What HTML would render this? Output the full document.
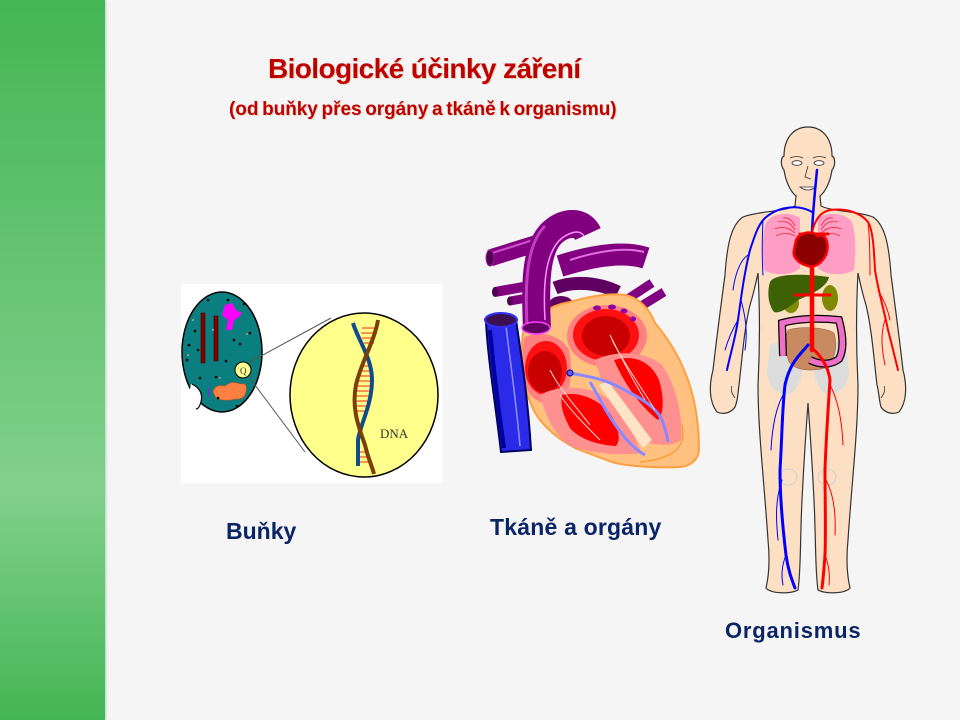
<!DOCTYPE html>
<html>
<head>
<meta charset="utf-8">
<style>
html,body{margin:0;padding:0;}
body{width:960px;height:720px;overflow:hidden;background:#f5f5f5;position:relative;font-family:"Liberation Sans",Arial,sans-serif;}
#bar{position:absolute;left:0;top:0;width:105px;height:720px;background:linear-gradient(to bottom,#44b654 0%,#82d08d 68%,#44b654 100%);box-shadow:1px 0 2px rgba(120,200,130,0.6);}
svg{position:absolute;left:0;top:0;}
.t{position:absolute;white-space:nowrap;font-weight:bold;line-height:1;}
#title{left:268px;top:55px;font-size:28px;color:#c00000;letter-spacing:-0.6px;text-shadow:1px 1px 0 #e6d6c2;}
#sub{left:229px;top:100px;font-size:19px;color:#c00000;word-spacing:-1.5px;letter-spacing:-0.05px;text-shadow:1px 1px 0 #e6d6c2;}
.lab{color:#0a2466;}
</style>
</head>
<body>
<div id="bar"></div>
<svg width="960" height="720" viewBox="0 0 960 720" xmlns="http://www.w3.org/2000/svg">
<!-- ============ CELL ============ -->
<rect x="181" y="284" width="261" height="199" fill="#ffffff"/>
<ellipse cx="222" cy="352" rx="40" ry="60" fill="#0b7f80" stroke="#000" stroke-width="1.5"/>
<path d="M191,384 Q204,390 201,402 Q199,410 194,408 L188,400 Z" fill="#ffffff"/>
<path d="M192,384 Q204,390 201,402 Q199,409 196,409" fill="none" stroke="#000" stroke-width="1.2"/>
<rect x="201" y="313" width="4" height="50" fill="#800000" stroke="#3a0000" stroke-width="0.6"/>
<rect x="214" y="316" width="4" height="45" fill="#800000" stroke="#3a0000" stroke-width="0.6"/>
<path d="M225,305 L232,303 L236,310 L242,313 L238,318 L234,320 L232,330 L226,330 L228,320 L222,315 Z" fill="#ff00ff"/>
<path d="M213,392 Q215,384 225,386 Q232,380 240,384 Q248,382 246,392 Q244,400 235,399 Q225,402 216,398 Z" fill="#ff8040" stroke="#c05020" stroke-width="0.6"/>
<rect x="208" y="388" width="2" height="8" fill="#6040c0"/>
<g fill="#000">
<circle cx="208" cy="300" r="1.3"/><circle cx="228" cy="300" r="1.3"/><circle cx="244" cy="304" r="1.3"/>
<circle cx="195" cy="331" r="1.3"/><circle cx="234" cy="340" r="1.3"/><circle cx="240" cy="344" r="1.3"/>
<circle cx="189" cy="345" r="1.3"/><circle cx="198" cy="350" r="1.3"/><circle cx="187" cy="360" r="1.3"/>
<circle cx="216" cy="377" r="1.3"/><circle cx="200" cy="378" r="1.3"/><circle cx="218" cy="398" r="1.3"/>
<circle cx="237" cy="406" r="1.3"/><circle cx="250" cy="333" r="1.3"/><circle cx="226" cy="361" r="1.3"/>
</g>
<g fill="#999">
<circle cx="193" cy="320" r="1.1"/><circle cx="213" cy="330" r="1.1"/><circle cx="247" cy="334" r="1.1"/><circle cx="188" cy="355" r="1.1"/><circle cx="220" cy="378" r="1.1"/>
</g>
<line x1="250" y1="362" x2="331" y2="318" stroke="#555" stroke-width="1"/>
<line x1="249" y1="377" x2="305" y2="452" stroke="#555" stroke-width="1"/>
<circle cx="243" cy="370" r="8" fill="#ffff90" stroke="#000" stroke-width="1"/>
<text x="240" y="374" font-family="Liberation Serif,serif" font-size="9" fill="#333">Q</text>
<ellipse cx="364" cy="395" rx="74" ry="82" fill="#ffff8c" stroke="#000" stroke-width="1.5"/>
<g stroke="#ff2020" stroke-width="1">
<line x1="362" y1="328" x2="378" y2="328"/><line x1="361" y1="333" x2="377" y2="333"/><line x1="362" y1="338" x2="375" y2="338"/><line x1="364" y1="343" x2="374" y2="343"/>
<line x1="360" y1="366" x2="372" y2="366"/><line x1="358" y1="371" x2="372" y2="371"/><line x1="357" y1="376" x2="372" y2="376"/><line x1="356" y1="381" x2="372" y2="381"/>
<line x1="355" y1="386" x2="372" y2="386"/><line x1="355" y1="391" x2="371" y2="391"/><line x1="355" y1="396" x2="370" y2="396"/><line x1="355" y1="401" x2="369" y2="401"/>
<line x1="356" y1="406" x2="367" y2="406"/><line x1="357" y1="411" x2="365" y2="411"/>
<line x1="358" y1="452" x2="368" y2="452"/><line x1="358" y1="457" x2="370" y2="457"/><line x1="358" y1="462" x2="372" y2="462"/>
</g>
<path d="M353,323 C358,340 372,358 372,380 C372,405 360,425 358,440 L358,466" fill="none" stroke="#104b8a" stroke-width="4"/>
<path d="M378,320 C375,340 360,365 356,385 C351,410 360,430 365,445 C368,458 372,466 374,474" fill="none" stroke="#7b3f0a" stroke-width="4"/>
<text x="380" y="438" font-family="Liberation Serif,serif" font-size="13" fill="#333">DNA</text>

<!-- ============ HEART ============ -->
<g fill="none" stroke-linecap="butt">
<path d="M490,258 Q515,250 548,240" stroke="#800080" stroke-width="17"/>
<path d="M492,253 Q515,246 545,236" stroke="#d050d0" stroke-width="2"/>
<ellipse cx="490" cy="258" rx="4" ry="8" fill="#500050" stroke="#a020a0"/>
<path d="M495,292 L540,284" stroke="#800080" stroke-width="10"/>
<ellipse cx="495" cy="292" rx="3" ry="5" fill="#500050"/>
<path d="M510,301 L545,295" stroke="#800080" stroke-width="9"/>
<ellipse cx="510" cy="301" rx="3" ry="4.5" fill="#500050"/>
<path d="M560,266 C595,255 625,251 646,258" stroke="#800080" stroke-width="22"/>
<path d="M570,260 C598,251 625,247 644,252" stroke="#e070e0" stroke-width="2"/>
<path d="M626,300 L652,283" stroke="#800080" stroke-width="9"/>
<path d="M638,308 L664,292" stroke="#800080" stroke-width="9"/>
<path d="M555,288 C575,280 600,283 618,292" stroke="#600060" stroke-width="13"/>
<ellipse cx="561" cy="306" rx="13" ry="10" fill="#600060"/>
</g>
<path d="M523,333 C530,318 550,305 570,302 C590,296 610,293 625,295 C640,298 650,310 655,323 C665,335 678,352 688,380 C695,400 699,425 699,450 C698,460 691,466 680,467 C660,468 635,467 615,463 C600,458 585,452 575,448 C560,440 548,430 540,420 C532,410 527,395 525,383 C522,365 521,345 523,333 Z" fill="#ffc080" stroke="#ffa040" stroke-width="2"/>
<!-- right atrium -->
<path d="M524,338 C535,330 560,333 569,350 C573,370 571,392 561,404 C545,407 530,400 526,386 C523,370 522,350 524,338 Z" fill="#ff8080"/>
<ellipse cx="546" cy="368" rx="21" ry="27" fill="#ff1010"/>
<ellipse cx="545" cy="372" rx="17" ry="21" fill="#c80000"/>
<!-- left atrium -->
<ellipse cx="607" cy="336" rx="40" ry="31" fill="#ff8080"/>
<ellipse cx="606" cy="335" rx="33" ry="26" fill="#ff1010"/>
<ellipse cx="606" cy="336" rx="24" ry="20" fill="#c80000"/>
<!-- left ventricle -->
<path d="M595,360 C615,350 645,351 662,365 C676,385 683,415 681,440 C672,447 655,446 640,440 C620,420 605,395 595,360 Z" fill="#ff9090"/>
<path d="M614,360 C635,354 651,362 659,380 C665,400 663,415 658,420 C645,410 627,390 614,360 Z" fill="#ff0000"/>
<!-- right ventricle -->
<path d="M540,395 C560,384 590,385 610,400 C625,415 635,435 641,453 C620,456 590,453 570,446 C555,436 545,415 540,395 Z" fill="#ff9090"/>
<path d="M562,395 C580,391 600,400 611,415 C619,428 621,440 616,446 C596,445 578,438 570,428 C563,415 560,405 562,395 Z" fill="#ff0000"/>
<path d="M599,385 L608,381 L652,440 L643,448 Z" fill="#ffe4c8"/>
<path d="M570,373 C585,376 600,378 615,385 C635,395 655,405 662,420 C665,428 667,435 668,442" fill="none" stroke="#8888ff" stroke-width="3"/>
<path d="M590,382 C598,395 605,410 612,420 C622,435 632,448 645,455" fill="none" stroke="#8888ff" stroke-width="3"/>
<circle cx="570" cy="373" r="3" fill="#6060ff" stroke="#000080"/>
<g stroke="#ffd0d0" stroke-width="1" fill="none">
<path d="M610,335 C620,355 630,375 645,400"/><path d="M612,340 C625,365 640,385 655,410"/>
<path d="M550,370 C560,390 575,405 590,425"/><path d="M560,395 C570,410 585,425 600,440"/>
</g>
<g fill="#9000a0"><ellipse cx="597" cy="308" rx="4" ry="2.5"/><ellipse cx="612" cy="307" rx="4" ry="2.5"/><ellipse cx="624" cy="311" rx="3.5" ry="2.5"/><ellipse cx="633" cy="319" rx="3" ry="2.5"/></g>
<path d="M682,425 C686,445 678,458 640,462" fill="none" stroke="#ff9020" stroke-width="1"/>
<!-- aorta front -->
<path d="M537,328 C535,285 535,248 553,232 C566,221 582,221 588,234" fill="none" stroke="#800080" stroke-width="28"/>
<path d="M527,326 C525,285 526,245 545,226" fill="none" stroke="#c040c0" stroke-width="3"/>
<path d="M545,320 C543,285 545,252 562,238 C572,231 580,230 584,236" fill="none" stroke="#ff90ff" stroke-width="1.5"/>
<ellipse cx="536" cy="328" rx="14" ry="6" fill="#600060" stroke="#ff40ff" stroke-width="1.5"/>
<!-- vena cava -->
<path d="M486,322 C488,360 495,400 501,452 L531,450 C528,400 522,360 516,320 Z" fill="#2a2ae8" stroke="#000060" stroke-width="2"/>
<path d="M506,326 C510,360 516,400 520,446" fill="none" stroke="#9090ff" stroke-width="1.5"/>
<path d="M490,330 C493,365 498,405 504,448" fill="none" stroke="#0000a0" stroke-width="4"/>
<ellipse cx="501" cy="320" rx="16" ry="7" fill="#3a1050" stroke="#3030ff" stroke-width="2"/>

<!-- ============ BODY ============ -->
<path d="M808,127 C823,127 832,139 832,156 C835,157 836,165 832,170 C830,183 825,192 820,196 L821,206 C833,212 858,211 873,217 C885,225 889,245 891,275 C895,305 899,335 903,370 C907,385 907,402 899,412 C893,415 885,413 881,407 C879,400 879,392 877,385 C874,360 872,330 866,305 C862,292 860,282 858,273 C856,310 856,345 858,385 C858,430 852,480 848,540 C846,560 847,575 850,588 C845,594 825,594 818,590 C815,570 816,540 814,500 C812,460 810,430 808,403 C806,430 804,460 802,500 C800,540 801,570 798,590 C791,594 771,594 766,588 C769,575 770,560 768,540 C764,480 758,430 758,385 C760,345 760,310 758,273 C756,282 754,292 750,305 C744,330 742,360 739,385 C738,392 738,400 735,407 C731,413 723,415 717,412 C709,402 709,385 713,370 C717,335 721,305 725,275 C727,245 731,225 743,217 C758,211 783,212 795,206 L796,196 C791,192 786,183 784,170 C780,165 781,157 784,156 C784,139 793,127 808,127 Z" fill="#fde0c4" stroke="#333" stroke-width="1.2"/>
<g fill="none" stroke="#333" stroke-width="0.8">
<path d="M735,398 C732,394 730,390 732,386"/><path d="M881,398 C884,394 886,390 884,386"/>
<path d="M790,158 Q797,155 803,158"/><path d="M813,158 Q819,155 826,158"/>
<path d="M808,166 L805,177 L811,179"/>
</g>
<ellipse cx="797" cy="163" rx="5" ry="2.3" fill="#fff" stroke="#333" stroke-width="0.8"/>
<ellipse cx="819" cy="163" rx="5" ry="2.3" fill="#fff" stroke="#333" stroke-width="0.8"/>
<path d="M800,187 Q808,193 816,187 Z" fill="#fff" stroke="#333" stroke-width="0.8"/>
<!-- lungs -->
<path d="M766,222 C774,212 792,212 800,218 L800,268 C792,276 774,276 764,270 C762,252 762,235 766,222 Z" fill="#ff9ec4"/>
<path d="M852,222 C844,212 826,212 818,218 L818,268 C826,276 844,276 854,270 C856,252 856,235 852,222 Z" fill="#ff9ec4"/>
<g stroke="#ff2030" stroke-width="0.8" fill="none">
<path d="M795,230 C790,222 784,220 778,222"/><path d="M795,233 C788,227 781,226 775,229"/><path d="M795,236 C788,232 781,233 776,236"/><path d="M795,226 C792,220 788,217 783,218"/>
<path d="M821,230 C826,222 832,220 838,222"/><path d="M821,233 C828,227 835,226 841,229"/><path d="M821,236 C828,232 835,233 840,236"/><path d="M821,226 C824,220 828,217 833,218"/>
</g>
<!-- pelvis -->
<path d="M770,345 C778,339 795,342 802,352 C805,370 800,388 790,394 C778,396 768,388 767,372 Z" fill="#dcdcdc"/>
<path d="M846,345 C838,339 821,342 814,352 C811,370 816,388 826,394 C838,396 848,388 849,372 Z" fill="#dcdcdc"/>
<g fill="none" stroke="#cfcfcf" stroke-width="1"><ellipse cx="788" cy="477" rx="9" ry="8"/><ellipse cx="827" cy="477" rx="9" ry="8"/></g>
<!-- kidneys / liver -->
<ellipse cx="791" cy="303" rx="8" ry="10" fill="#7f8a00"/>
<ellipse cx="830" cy="298" rx="8" ry="13" fill="#7f8a00"/>
<path d="M770,282 C774,274 800,273 829,277 C827,287 812,294 798,300 C788,308 780,314 774,312 C768,304 767,292 770,282 Z" fill="#3d6105"/>
<!-- intestines -->
<path d="M788,330 C800,326 825,327 834,333 C838,345 835,362 825,368 C810,372 795,370 789,362 C785,350 785,338 788,330 Z" fill="#c98a62" stroke="#8a5030" stroke-width="0.5"/>
<path d="M783,356 L782,323 C800,318 822,318 839,320 C843,335 844,350 839,359 C830,366 818,364 810,360" fill="none" stroke="#000" stroke-width="8"/>
<path d="M783,356 L782,323 C800,318 822,318 839,320 C843,335 844,350 839,359 C830,366 818,364 810,360" fill="none" stroke="#f070c8" stroke-width="5.5"/>
<!-- veins -->
<g fill="none" stroke="#0000ff" stroke-linecap="round">
<path d="M817,170 C815,190 813,210 812,232" stroke-width="2.5"/>
<path d="M812,212 C800,205 780,205 765,218 C758,225 755,235 750,250 C745,270 742,290 738,320 C735,340 730,355 727,370" stroke-width="2"/>
<path d="M808,345 C800,355 790,362 785,385 C782,410 782,440 780,470 C780,500 783,530 786,555 C788,570 792,580 795,588" stroke-width="3"/>
<g stroke-width="1">
<path d="M763,220 C762,240 762,260 763,275"/><path d="M748,255 C740,260 735,275 733,290"/><path d="M738,320 C732,330 728,340 725,350"/><path d="M741,300 C745,315 748,330 745,350"/>
<path d="M783,395 C775,410 772,430 771,450"/><path d="M782,480 C775,500 776,520 778,540"/><path d="M786,555 C782,565 781,575 783,585"/>
</g>
</g>
<!-- arteries -->
<g fill="none" stroke="#ff0000" stroke-linecap="round">
<path d="M812,232 C815,220 820,212 830,210 C845,208 860,212 868,222 C873,230 874,250 875,270 C878,290 884,310 888,330 C892,345 895,358 898,370" stroke-width="2"/>
<path d="M812,240 L812,350" stroke-width="4.5"/>
<path d="M800,234 L828,234" stroke-width="3"/>
<path d="M795,295 L830,295" stroke-width="3"/>
<path d="M812,348 C820,355 828,365 830,380 C828,410 826,440 825,470 C825,500 826,530 825,555 C824,570 823,580 822,588" stroke-width="3"/>
<g stroke-width="1">
<path d="M868,222 C870,240 870,260 870,275"/><path d="M878,290 C884,300 888,310 890,320"/><path d="M885,320 C880,335 882,350 885,365"/>
<path d="M830,385 C838,400 842,420 843,445"/><path d="M826,480 C834,495 836,515 835,535"/><path d="M825,555 C829,565 830,575 829,585"/>
</g>
</g>
<path d="M796,240 C800,232 812,230 818,236 C826,232 830,245 826,255 C822,263 815,268 808,266 C800,264 792,258 794,250 Z" fill="#8b0000" stroke="#ff0000" stroke-width="2.5"/>
</svg>
<div class="t" id="title">Biologické účinky záření</div>
<div class="t" id="sub">(od buňky přes orgány a tkáně k organismu)</div>
<div class="t lab" style="left:226px;top:520px;font-size:23px;">Buňky</div>
<div class="t lab" style="left:490px;top:516px;font-size:23px;letter-spacing:0.2px;">Tkáně a orgány</div>
<div class="t lab" style="left:725px;top:620px;font-size:22px;letter-spacing:0.8px;">Organismus</div>
</body>
</html>
